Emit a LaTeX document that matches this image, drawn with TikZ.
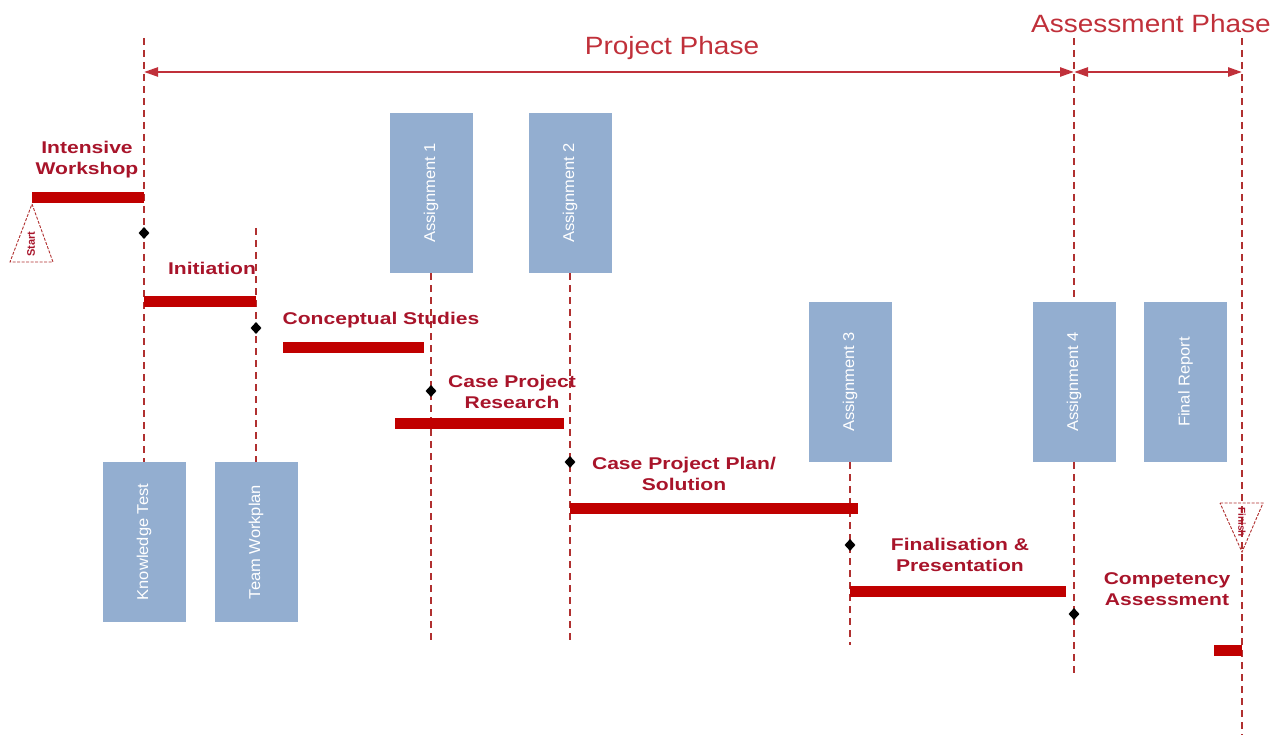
\documentclass[tikz,border=0pt]{standalone}
\usepackage{fontspec}
\setmainfont{Liberation Sans}
\usetikzlibrary{arrows.meta,shapes.geometric}
\definecolor{barred}{HTML}{C00000}
\definecolor{lblred}{HTML}{A8142A}
\definecolor{phred}{HTML}{C0303A}
\definecolor{boxblue}{HTML}{93AED0}
\definecolor{dashred}{HTML}{B03030}
\tikzset{
  vline/.style={draw=dashred, line width=1.1pt, dash pattern=on 7pt off 5pt},
  bar/.style={fill=barred, draw=none},
  blk/.style={fill=boxblue, draw=none, minimum width=83pt, minimum height=160pt, inner sep=0pt},
  blktext/.style={text=white, font=\fontsize{16.5}{18}\selectfont, rotate=90, yscale=0.95},
  lbl/.style={text=lblred, font=\bfseries\fontsize{17}{21}\selectfont, align=center, xscale=1.24, inner sep=0pt},
  phase/.style={text=phred, font=\fontsize{25}{28}\selectfont, xscale=1.12, inner sep=0pt},
  ms/.style={fill=black, draw=none, diamond, minimum width=11pt, minimum height=12pt, inner sep=0pt},
  phasearrow/.style={draw=phred, line width=2.4pt, {Triangle[length=14pt,width=9pt]}-{Triangle[length=14pt,width=9pt]}},
  tri/.style={draw=dashred, line width=0.9pt, dash pattern=on 3pt off 1.5pt},
}
\begin{document}
\begin{tikzpicture}[x=1pt,y=-1pt]
\useasboundingbox (0,0) rectangle (1284,735);
% boxes
\node[blk] (kt) at (144,542) {};
\node[blktext] at (kt.center) {Knowledge Test};
\node[blk] (tw) at (256,542) {};
\node[blktext] at (tw.center) {Team Workplan};
\node[blk] (a1) at (431,193) {};
\node[blktext] at (a1.center) {Assignment 1};
\node[blk] (a2) at (570,193) {};
\node[blktext] at (a2.center) {Assignment 2};
\node[blk] (a3) at (850,382) {};
\node[blktext] at (a3.center) {Assignment 3};
\node[blk] (a4) at (1074,382) {};
\node[blktext] at (a4.center) {Assignment 4};
\node[blk] (fr) at (1185.5,382) {};
\node[blktext] at (fr.center) {Final Report};
% dashed timelines
\coordinate (t1) at (144,38);
\coordinate (t2) at (256,228);
\coordinate (b3) at (431,645);
\coordinate (b4) at (570,645);
\coordinate (b5) at (850,645);
\coordinate (t6) at (1074,38);
\coordinate (b6) at (1074,675);
\coordinate (t7) at (1242,38);
\coordinate (b7) at (1242,735);
\draw[vline] (t1) -- (kt.north);
\draw[vline] (t2) -- (tw.north);
\draw[vline] (a1.south) -- (b3);
\draw[vline] (a2.south) -- (b4);
\draw[vline] (a3.south) -- (b5);
\draw[vline] (t6) -- (a4.north);
\draw[vline] (a4.south) -- (b6);
\draw[vline] (t7) -- (b7);
% phase arrows
\coordinate (pa) at (144,72);
\coordinate (pb) at (1074,72);
\coordinate (pc) at (1242,72);
\draw[phasearrow] (pa) -- (pb);
\draw[phasearrow] (pb) -- (pc);
\node[phase] (pp) at (672,48) {Project Phase};
\node[phase] (ap) at (1151,24) {Assessment Phase};
% bars
\fill[bar] (32,192) rectangle (144,203);
\fill[bar] (144,296) rectangle (256,307);
\fill[bar] (283,342) rectangle (424,353);
\fill[bar] (395,418) rectangle (564,429);
\fill[bar] (570,503) rectangle (858,514);
\fill[bar] (850,586) rectangle (1066,597);
\fill[bar] (1214,645) rectangle (1242,656);
% milestones
\node[ms] (m1) at (144,233) {};
\node[ms] (m2) at (256,328) {};
\node[ms] (m3) at (431,391) {};
\node[ms] (m4) at (570,462) {};
\node[ms] (m5) at (850,545) {};
\node[ms] (m6) at (1074,614) {};
% labels
\node[lbl] (l1) at (87,160) {Intensive\\Workshop};
\node[lbl] (l2) at (212,268) {Initiation};
\node[lbl] (l3) at (381,320) {Conceptual Studies};
\node[lbl] (l4) at (512,392) {Case Project\\Research};
\node[lbl] (l5) at (684,474) {Case Project Plan/\\Solution};
\node[lbl] (l6) at (960,555) {Finalisation \&\\Presentation};
\node[lbl] (l7) at (1167,589) {Competency\\Assessment};
% start / finish
\draw[tri] (32,204) -- (53,262) -- (10,262) -- cycle;
\node[text=lblred, font=\bfseries\fontsize{11}{11}\selectfont, rotate=90, inner sep=0pt] (st) at (31,244) {Start};
\draw[tri] (1220,503) -- (1263,503) -- (1242,552) -- cycle;
\node[text=lblred, font=\bfseries\fontsize{10}{10}\selectfont, rotate=-90, inner sep=0pt] (fi) at (1242,522) {Finish};
\end{tikzpicture}
\end{document}
